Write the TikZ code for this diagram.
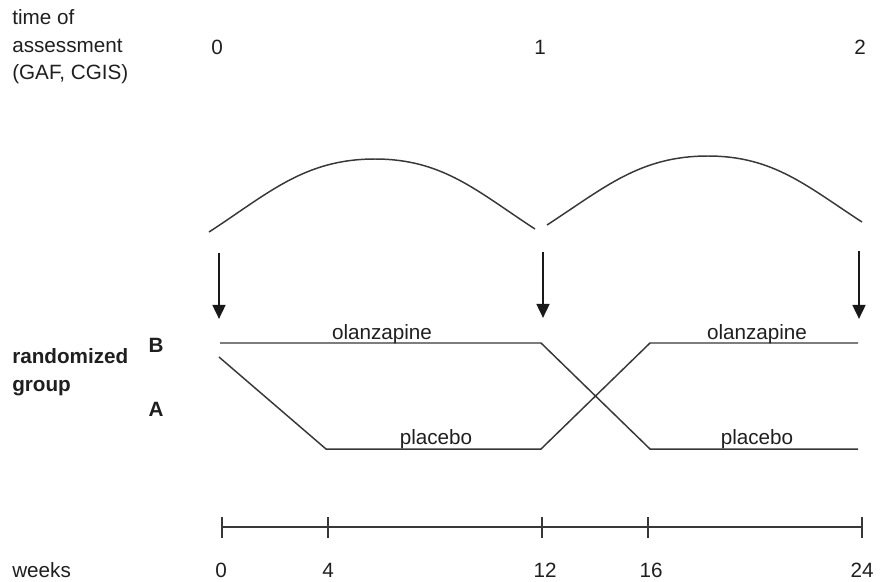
\documentclass[tikz,border=0pt]{standalone}
\usepackage{fontspec}
\setmainfont{Liberation Sans}
\usetikzlibrary{arrows.meta}
\tikzset{
  lbl/.style={font=\fontsize{14.7}{19.6}\selectfont, text=black!88, inner sep=0pt},
  bold lbl/.style={lbl, font=\fontsize{14.7}{19.6}\selectfont\bfseries},
  trace/.style={line width=1.05pt, draw=black!78},
  assessarrow/.style={line width=1.9pt, draw=black!90, -{Triangle[length=10pt,width=9pt]}}
}
\begin{document}
\begin{tikzpicture}[x=0.025cm,y=-0.025cm]
\useasboundingbox (0,0) rectangle (887,581);

\node[lbl, anchor=west, align=left] (assess) at (12,47) {time of\\assessment\\(GAF, CGIS)};
\node[lbl] (t0) at (217,47) {0};
\node[lbl] (t1) at (540,47) {1};
\node[lbl] (t2) at (860,47) {2};

\coordinate (arcAs) at (209,232);
\coordinate (arcAp) at (375,159);
\coordinate (arcAe) at (535,229);
\coordinate (arcBs) at (547,225);
\coordinate (arcBp) at (708,156);
\coordinate (arcBe) at (862,222);
\draw[trace] (arcAs) to[out=33,in=180] (arcAp) to[out=0,in=147] (arcAe);
\draw[trace] (arcBs) to[out=33,in=180] (arcBp) to[out=0,in=147] (arcBe);

\coordinate (arr0s) at (219,253);
\coordinate (arr0e) at (219,319);
\coordinate (arr1s) at (543,252);
\coordinate (arr1e) at (543,318);
\coordinate (arr2s) at (859,251);
\coordinate (arr2e) at (859,319);
\draw[assessarrow] (arr0s) -- (arr0e);
\draw[assessarrow] (arr1s) -- (arr1e);
\draw[assessarrow] (arr2s) -- (arr2e);

\node[bold lbl, anchor=west, align=left] (rgroup) at (12,372) {randomized\\group};
\node[bold lbl] (grpB) at (156,345) {B};
\node[bold lbl] (grpA) at (156,409) {A};

\coordinate (olz0) at (220,343);
\coordinate (olz12) at (541,343);
\coordinate (plcA0) at (219,357);
\coordinate (plcA4) at (326,449);
\coordinate (plcA12) at (541,449);
\coordinate (sw16t) at (650,343);
\coordinate (sw16b) at (650,449);
\coordinate (end24t) at (858,343);
\coordinate (end24b) at (858,449);
\draw[trace] (olz0) -- (olz12) -- (sw16b) -- (end24b);
\draw[trace] (plcA0) -- (plcA4) -- (plcA12) -- (sw16t) -- (end24t);

\node[lbl, anchor=base] (olzA) at (382,339) {olanzapine};
\node[lbl, anchor=base] (olzB) at (757,339) {olanzapine};
\node[lbl, anchor=base] (plcA) at (436,444) {placebo};
\node[lbl, anchor=base] (plcB) at (757,444) {placebo};

\coordinate (w0) at (222,527);
\coordinate (w24) at (862,527);
\draw[trace] (w0) -- (w24);
\foreach \w/\xx/\lx in {0/222/221, 4/328/328, 12/542/545, 16/648/651, 24/862/862}{
  \draw[trace] (\xx,517) -- (\xx,538);
  \node[lbl] (wk\w) at (\lx,570) {\w};
}
\node[lbl, anchor=west] (weeks) at (12,570) {weeks};
\end{tikzpicture}
\end{document}
